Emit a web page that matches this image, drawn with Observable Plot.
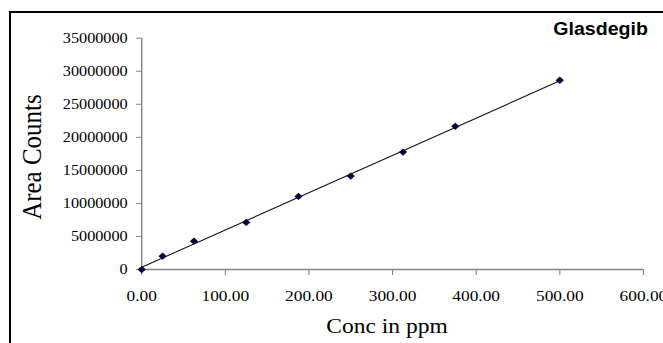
<!DOCTYPE html>
<html>
<head>
<meta charset="utf-8">
<script src="https://cdn.jsdelivr.net/npm/d3@7"></script>
<script src="https://cdn.jsdelivr.net/npm/@observablehq/plot@0.6"></script>
<style>
  html, body { margin: 0; padding: 0; background: #fff; }
  #wrap { position: relative; width: 663px; height: 343px; overflow: hidden; }
  #wrap svg { display: block; transform: scaleX(1.12); transform-origin: 0 0; }
  #border { position: absolute; left: 9px; top: 11px; width: 700px; height: 400px;
            border-left: 2px solid #000; border-top: 2px solid #000; pointer-events: none; }
</style>
</head>
<body>
<div id="wrap"><div id="border"></div></div>
<script>
// Calibration data: concentration (ppm) vs peak area counts
const conc = [0, 25, 62.5, 125, 187.5, 250, 312.5, 375, 500];
const area = [0, 2020000, 4290000, 7120000, 11060000, 14140000, 17770000, 21670000, 28640000];

// Axis tick values
const xTicks = [0, 100, 200, 300, 400, 500, 600];
const yTicks = [0, 5000000, 10000000, 15000000, 20000000, 25000000, 30000000, 35000000];

const title = "Glasdegib";
const xLabel = "Conc in ppm";
const yLabel = "Area Counts";

const data = conc.map((c, i) => ({conc: c, area: area[i]}));

const serif = "'Liberation Serif', 'Times New Roman', serif";
const axisGray = "#858585";

const chart = Plot.plot({
  width: 592,
  height: 343,
  marginLeft: 126,
  marginRight: 18,
  marginTop: 37.7,
  marginBottom: 74,
  style: {fontFamily: serif, background: "transparent", overflow: "visible"},
  x: {domain: [0, 600]},
  y: {domain: [0, 35000000]},
  marks: [
    Plot.ruleY([0], {stroke: axisGray, strokeWidth: 1.3}),
    Plot.ruleX([0], {stroke: axisGray, strokeWidth: 1.3}),
    Plot.axisX(xTicks, {
      tickSize: 6, tickPadding: 14, tickFormat: d3.format(".2f"),
      stroke: axisGray, fill: "#000", fontSize: 15.5, fontFamily: serif, label: null
    }),
    Plot.axisY(yTicks, {
      tickSize: 4.5, tickPadding: 8, tickFormat: d3.format("d"),
      stroke: axisGray, fill: "#000", fontSize: 14.5, fontFamily: serif, label: null
    }),
    Plot.linearRegressionY(data, {x: "conc", y: "area", ci: 0, stroke: "#1a1a1a", strokeWidth: 1.1}),
    Plot.dot(data, {x: "conc", y: "area", symbol: "diamond2", r: 3.3, fill: "#000040", stroke: "none"}),
    Plot.text([xLabel], {frameAnchor: "bottom", dx: -5, dy: 63, lineAnchor: "bottom",
      fontSize: 21, fontFamily: serif, fill: "#000"}),
    Plot.text([yLabel], {frameAnchor: "left", dx: -98.3, dy: 3.2, rotate: -90,
      textAnchor: "middle", lineAnchor: "middle", fontSize: 25, fontFamily: serif, fill: "#000"}),
    Plot.text([title], {frameAnchor: "top-left", dx: 367.5, dy: -3.7, textAnchor: "start",
      lineAnchor: "bottom", fontSize: 17.5, fontWeight: "bold",
      fontFamily: "'Liberation Sans', Arial, sans-serif", fill: "#000"})
  ]
});

document.getElementById("wrap").prepend(chart);
</script>
</body>
</html>
